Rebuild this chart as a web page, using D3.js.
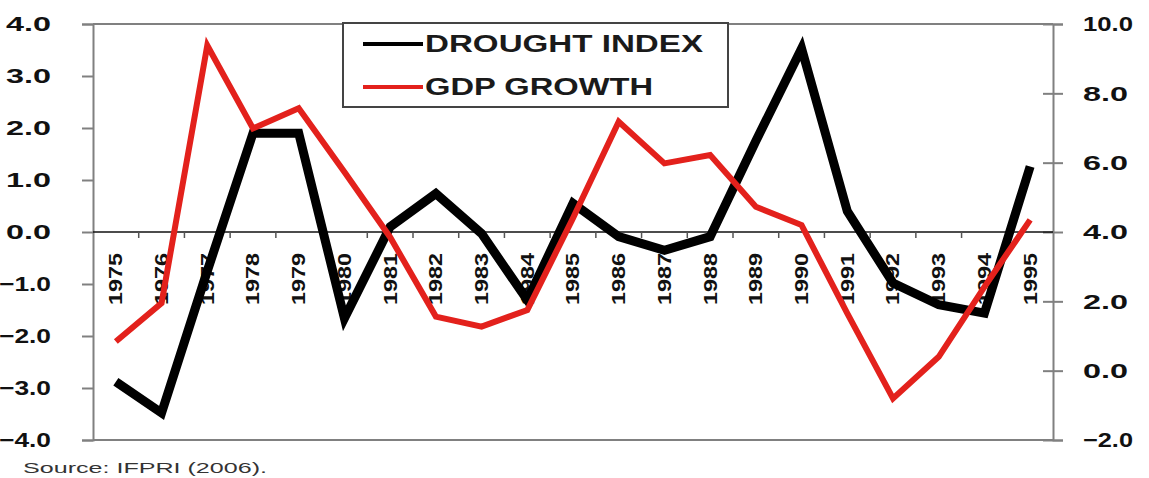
<!DOCTYPE html>
<html>
<head>
<meta charset="utf-8">
<script src="https://cdnjs.cloudflare.com/ajax/libs/d3/7.8.5/d3.min.js"></script>
<style>
  body { margin: 0; background: #fff; }
  text { font-family: "Liberation Sans", Arial, sans-serif; }
</style>
</head>
<body>
<svg id="chart"></svg>
<script>
var years = ['1975','1976','1977','1978','1979','1980','1981','1982','1983','1984','1985',
             '1986','1987','1988','1989','1990','1991','1992','1993','1994','1995'];
var drought = [-2.88, -3.48, -0.75, 1.9, 1.9, -1.66, 0.1, 0.74, -0.03, -1.31, 0.55,
               -0.09, -0.35, -0.09, 1.75, 3.53, 0.4, -0.98, -1.4, -1.56, 1.26];
var gdp = [0.84, 1.95, 9.38, 6.99, 7.57, 5.73, 3.85, 1.56, 1.27, 1.75, 4.4,
           7.18, 5.98, 6.22, 4.73, 4.2, 1.65, -0.8, 0.4, 2.42, 4.35];
var leftTicks = [-4, -3, -2, -1, 0, 1, 2, 3, 4];
var rightTicks = [-2, 0, 2, 4, 6, 8, 10];
var legendNames = ['DROUGHT INDEX', 'GDP GROWTH'];

var W = 1149, H = 478;
var margin = {left: 93, right: 96, top: 24, bottom: 38};
var w = W - margin.left - margin.right;
var h = H - margin.top - margin.bottom;
var axisGray = '#808080';
var red = '#e3211c';

var svg = d3.select('#chart').attr('width', W).attr('height', H);
var chart = svg.append('g')
	.attr('transform', 'translate(' + margin.left + ',' + margin.top + ')');

var x = d3.scaleBand().domain(years).range([0, w]);
var yL = d3.scaleLinear().domain([-4, 4]).range([h, 0]);
var yR = d3.scaleLinear().domain([-2, 10]).range([h, 0]);

// frame top / bottom
chart.append('line').attr('x1', 0).attr('x2', w).attr('y1', 0).attr('y2', 0)
	.attr('stroke', axisGray).attr('stroke-width', 2);
chart.append('line').attr('x1', 0).attr('x2', w).attr('y1', h).attr('y2', h)
	.attr('stroke', axisGray).attr('stroke-width', 2);

// left axis
var left = chart.append('g')
	.call(d3.axisLeft(yL).tickValues(leftTicks).tickSize(11).tickPadding(31)
		.tickFormat(d3.format('.1f')));
left.select('.domain').attr('stroke', axisGray).attr('stroke-width', 2);
left.selectAll('.tick line').attr('stroke', axisGray).attr('stroke-width', 2);
left.selectAll('.tick text')
	.attr('fill', '#111').attr('font-size', 21).attr('font-weight', 'bold')
	.attr('textLength', function(d) { return d < 0 ? 52 : 45; })
	.attr('lengthAdjust', 'spacingAndGlyphs');

// right axis
var right = chart.append('g')
	.attr('transform', 'translate(' + w + ',0)')
	.call(d3.axisRight(yR).tickValues(rightTicks).tickSize(10).tickPadding(20)
		.tickFormat(d3.format('.1f')));
right.select('.domain').attr('stroke', axisGray).attr('stroke-width', 2);
right.selectAll('.tick line').attr('stroke', axisGray).attr('stroke-width', 2)
	.attr('x1', -10);
right.selectAll('.tick text')
	.attr('fill', '#111').attr('font-size', 21).attr('font-weight', 'bold')
	.attr('textLength', function(d) { return (d >= 10 || d < 0) ? 50 : 45; })
	.attr('lengthAdjust', 'spacingAndGlyphs');

// zero line with category ticks
chart.append('line').attr('x1', 0).attr('x2', w)
	.attr('y1', yL(0)).attr('y2', yL(0))
	.attr('stroke', '#111').attr('stroke-width', 1.5);
chart.selectAll('line.cat')
	.data(years.slice(1)).enter()
	.append('line')
	.attr('class', 'cat')
	.attr('x1', function(d) { return x(d); })
	.attr('x2', function(d) { return x(d); })
	.attr('y1', yL(0)).attr('y2', yL(0) + 6)
	.attr('stroke', '#555').attr('stroke-width', 1.5);

// year labels
chart.selectAll('text.year')
	.data(years).enter()
	.append('text')
	.attr('class', 'year')
	.attr('transform', function(d) {
		return 'translate(' + (x(d) + x.bandwidth() / 2) + ',' + (yL(0) + 21) + ') rotate(-90)';
	})
	.attr('text-anchor', 'end')
	.attr('dy', '0.36em')
	.attr('font-size', 18).attr('font-weight', 'bold').attr('fill', '#111')
	.attr('textLength', 52).attr('lengthAdjust', 'spacingAndGlyphs')
	.text(function(d) { return d; });

// series
var lineL = d3.line()
	.x(function(d, i) { return x(years[i]) + x.bandwidth() / 2; })
	.y(function(d) { return yL(d); });
var lineR = d3.line()
	.x(function(d, i) { return x(years[i]) + x.bandwidth() / 2; })
	.y(function(d) { return yR(d); });

chart.append('path').datum(drought).attr('d', lineL)
	.attr('fill', 'none').attr('stroke', '#000').attr('stroke-width', 9)
	.attr('stroke-linejoin', 'miter');
chart.append('path').datum(gdp).attr('d', lineR)
	.attr('fill', 'none').attr('stroke', red).attr('stroke-width', 6)
	.attr('stroke-linejoin', 'miter');

// legend
var lg = svg.append('g').attr('transform', 'translate(343,23)');
lg.append('rect').attr('width', 385).attr('height', 84)
	.attr('fill', '#fff').attr('stroke', '#444').attr('stroke-width', 2);
var legendColors = ['#000', red];
legendNames.forEach(function(name, i) {
	var yy = 21 + i * 43;
	lg.append('line').attr('x1', 20).attr('x2', 80).attr('y1', yy).attr('y2', yy)
		.attr('stroke', legendColors[i]).attr('stroke-width', 4);
	lg.append('text').attr('x', 82).attr('y', yy).attr('dy', '0.36em')
		.attr('font-size', 23).attr('font-weight', 'bold').attr('fill', '#1a1a1a')
		.attr('textLength', i == 0 ? 278 : 228).attr('lengthAdjust', 'spacingAndGlyphs')
		.text(name);
});

// source
svg.append('text').attr('x', 23).attr('y', 473)
	.attr('font-size', 15).attr('fill', '#333')
	.attr('textLength', 244).attr('lengthAdjust', 'spacingAndGlyphs')
	.text('Source: IFPRI (2006).');
</script>
</body>
</html>
